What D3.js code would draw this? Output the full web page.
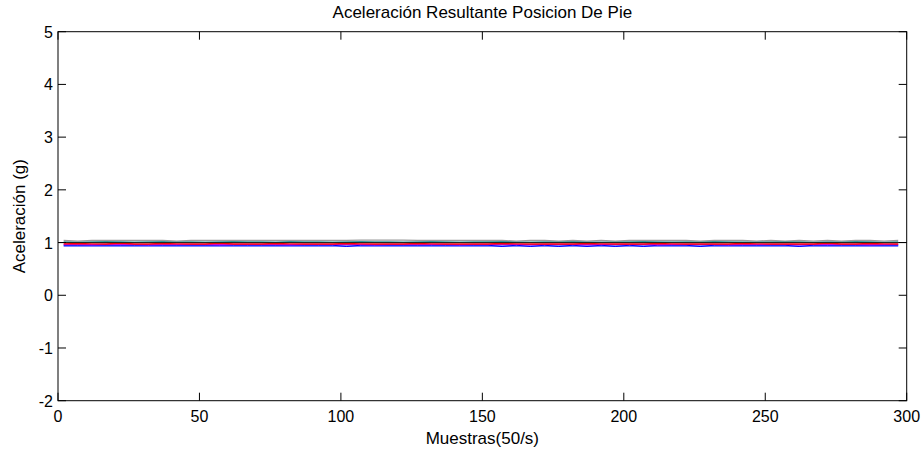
<!DOCTYPE html>
<html><head><meta charset="utf-8">
<script src="https://cdn.jsdelivr.net/npm/d3@7"></script>
<style>body{margin:0;background:#fff}svg{display:block}text{font-family:"Liberation Sans",Arial,sans-serif}</style>
</head><body><svg id="c" width="922" height="450"></svg>
<script>
const title = "Aceleración Resultante Posicion De Pie";
const xLabel = "Muestras(50/s)";
const yLabel = "Aceleración (g)";
const xTicks = [0,50,100,150,200,250,300];
const yTicks = [-2,-1,0,1,2,3,4,5];
const sampleStep = 5;
const refLine = [[0,1],[300,1]];
const lavenderVals = [0.935,0.935,0.935,0.935,0.935,0.935,0.935,0.935,0.935,0.935,0.935,0.935,0.935,0.935,0.935,0.935,0.935,0.935,0.935,0.935,0.935,0.935,0.935,0.935,0.935,0.935,0.935,0.935,0.935,0.935,0.935,0.935,0.935,0.935,0.935,0.935,0.935,0.935,0.935,0.935,0.935,0.935,0.935,0.935,0.935,0.935,0.935,0.935,0.935,0.935,0.935,0.935,0.935,0.935,0.935,0.935,0.935,0.935,0.935,0.935];
const blueVals = [0.95,0.95,0.95,0.95,0.95,0.95,0.95,0.95,0.95,0.95,0.95,0.95,0.95,0.95,0.95,0.95,0.95,0.95,0.95,0.95,0.925,0.95,0.95,0.95,0.95,0.95,0.95,0.95,0.95,0.95,0.95,0.925,0.95,0.925,0.95,0.925,0.95,0.925,0.95,0.925,0.95,0.925,0.95,0.95,0.95,0.925,0.95,0.95,0.95,0.95,0.95,0.95,0.925,0.95,0.95,0.95,0.95,0.95,0.95,0.95];
const magentaVals = [0.965,0.965,0.96,0.965,0.965,0.965,0.96,0.965,0.965,0.965,0.965,0.96,0.965,0.965,0.965,0.965,0.96,0.965,0.965,0.965,0.965,0.965,0.96,0.965,0.965,0.965,0.965,0.965,0.96,0.965,0.965,0.965,0.965,0.96,0.965,0.965,0.965,0.96,0.965,0.965,0.965,0.965,0.96,0.965,0.965,0.965,0.965,0.96,0.965,0.965,0.965,0.965,0.96,0.965,0.965,0.965,0.965,0.96,0.965,0.965];
const redVals = [0.975,0.98,0.975,0.975,0.985,0.975,0.975,0.98,0.975,0.975,0.975,0.985,0.975,0.975,0.975,0.98,0.975,0.975,0.975,0.975,0.98,0.975,0.975,0.975,0.975,0.98,0.975,0.975,0.975,0.975,0.975,0.98,0.975,0.975,0.975,0.975,0.975,0.98,0.975,0.975,0.975,0.975,0.98,0.975,0.975,0.975,0.975,0.975,0.98,0.975,0.975,0.975,0.975,0.975,0.985,0.975,0.975,0.98,0.975,0.975];
const greenVals = [1.0,1.005,1.0,1.0,1.005,1.0,1.0,1.0,1.005,1.0,1.0,1.0,1.005,1.0,1.0,1.0,1.005,1.0,1.0,1.0,1.0,1.005,1.0,1.0,1.0,1.0,1.005,1.0,1.0,1.0,1.005,1.0,1.0,1.0,1.0,1.005,1.0,1.0,1.0,1.005,1.0,1.0,1.0,1.005,1.0,1.0,1.0,1.0,1.005,1.0,1.0,1.0,1.005,1.0,1.0,1.0,1.0,1.005,1.0,1.0];
const tealVals = [1.015,1.01,1.015,1.02,1.015,1.01,1.015,1.02,1.015,1.015,1.01,1.015,1.02,1.015,1.015,1.01,1.02,1.015,1.015,1.01,1.015,1.02,1.015,1.015,1.01,1.015,1.02,1.015,1.01,1.015,1.015,1.02,1.015,1.01,1.015,1.015,1.02,1.015,1.01,1.015,1.015,1.02,1.015,1.01,1.015,1.015,1.02,1.015,1.01,1.015,1.015,1.02,1.015,1.01,1.015,1.015,1.02,1.015,1.01,1.015];
const grayVals = [1.04,1.03,1.04,1.04,1.04,1.04,1.04,1.04,1.03,1.04,1.04,1.04,1.04,1.04,1.04,1.04,1.04,1.04,1.04,1.04,1.04,1.045,1.045,1.045,1.045,1.04,1.04,1.04,1.04,1.04,1.04,1.04,1.03,1.04,1.04,1.03,1.04,1.03,1.04,1.03,1.04,1.04,1.04,1.04,1.04,1.03,1.04,1.04,1.04,1.03,1.04,1.03,1.04,1.03,1.04,1.03,1.04,1.04,1.03,1.04];
const seriesList = [
  {name:"lavender", vals:lavenderVals, color:"#8080ff", w:2},
  {name:"blue", vals:blueVals, color:"#0000ff", w:1},
  {name:"magenta", vals:magentaVals, color:"#cc00ff", w:1.2},
  {name:"red", vals:redVals, color:"#ff0000", w:1.5},
  {name:"green", vals:greenVals, color:"#2e8b57", w:1},
  {name:"teal", vals:tealVals, color:"#339999", w:1.2},
  {name:"gray", vals:grayVals, color:"#9a9a9a", w:1.2}
];

const svg = d3.select("#c");
const L=58, R=906.7, T=31.7, B=400.7;
const x = d3.scaleLinear().domain([0,300]).range([L,R]);
const y = d3.scaleLinear().domain([-2,5]).range([B,T]);

const line = d3.line().x(d=>x(d[0])).y(d=>y(d[1]));
seriesList.forEach(s=>{
  const pts = s.vals.map((v,i)=>[i*sampleStep+2, v]);
  svg.append("path").attr("d",line(pts)).attr("fill","none")
    .attr("stroke",s.color).attr("stroke-width",s.w);
});
svg.append("path").attr("d",line(refLine)).attr("fill","none").attr("stroke","#222").attr("stroke-width",1);

const tl = 8;
const g = svg.append("g").attr("stroke","#000").attr("stroke-width",1);
xTicks.forEach(t=>{
  g.append("line").attr("x1",x(t)).attr("x2",x(t)).attr("y1",B).attr("y2",B-tl);
  g.append("line").attr("x1",x(t)).attr("x2",x(t)).attr("y1",T).attr("y2",T+tl);
});
yTicks.forEach(t=>{
  g.append("line").attr("x1",L).attr("x2",L+tl).attr("y1",y(t)).attr("y2",y(t));
  g.append("line").attr("x1",R).attr("x2",R-tl).attr("y1",y(t)).attr("y2",y(t));
});
svg.append("rect").attr("x",L).attr("y",T).attr("width",R-L).attr("height",B-T)
  .attr("fill","none").attr("stroke","#000").attr("stroke-width",1);

svg.append("g").selectAll("text").data(xTicks).join("text")
  .attr("x",d=>x(d)).attr("y",421.5).attr("text-anchor","middle")
  .attr("font-size",16).text(d=>d);
svg.append("g").selectAll("text").data(yTicks).join("text")
  .attr("x",L-5).attr("y",d=>y(d)+6).attr("text-anchor","end")
  .attr("font-size",16).text(d=>d);

svg.append("text").attr("x",(L+R)/2).attr("y",18).attr("text-anchor","middle").attr("font-size",17).text(title);
svg.append("text").attr("x",(L+R)/2).attr("y",444).attr("text-anchor","middle").attr("font-size",17).text(xLabel);
svg.append("text").attr("transform",`translate(25,${(T+B)/2}) rotate(-90)`).attr("text-anchor","middle").attr("font-size",17).text(yLabel);
</script></body></html>
